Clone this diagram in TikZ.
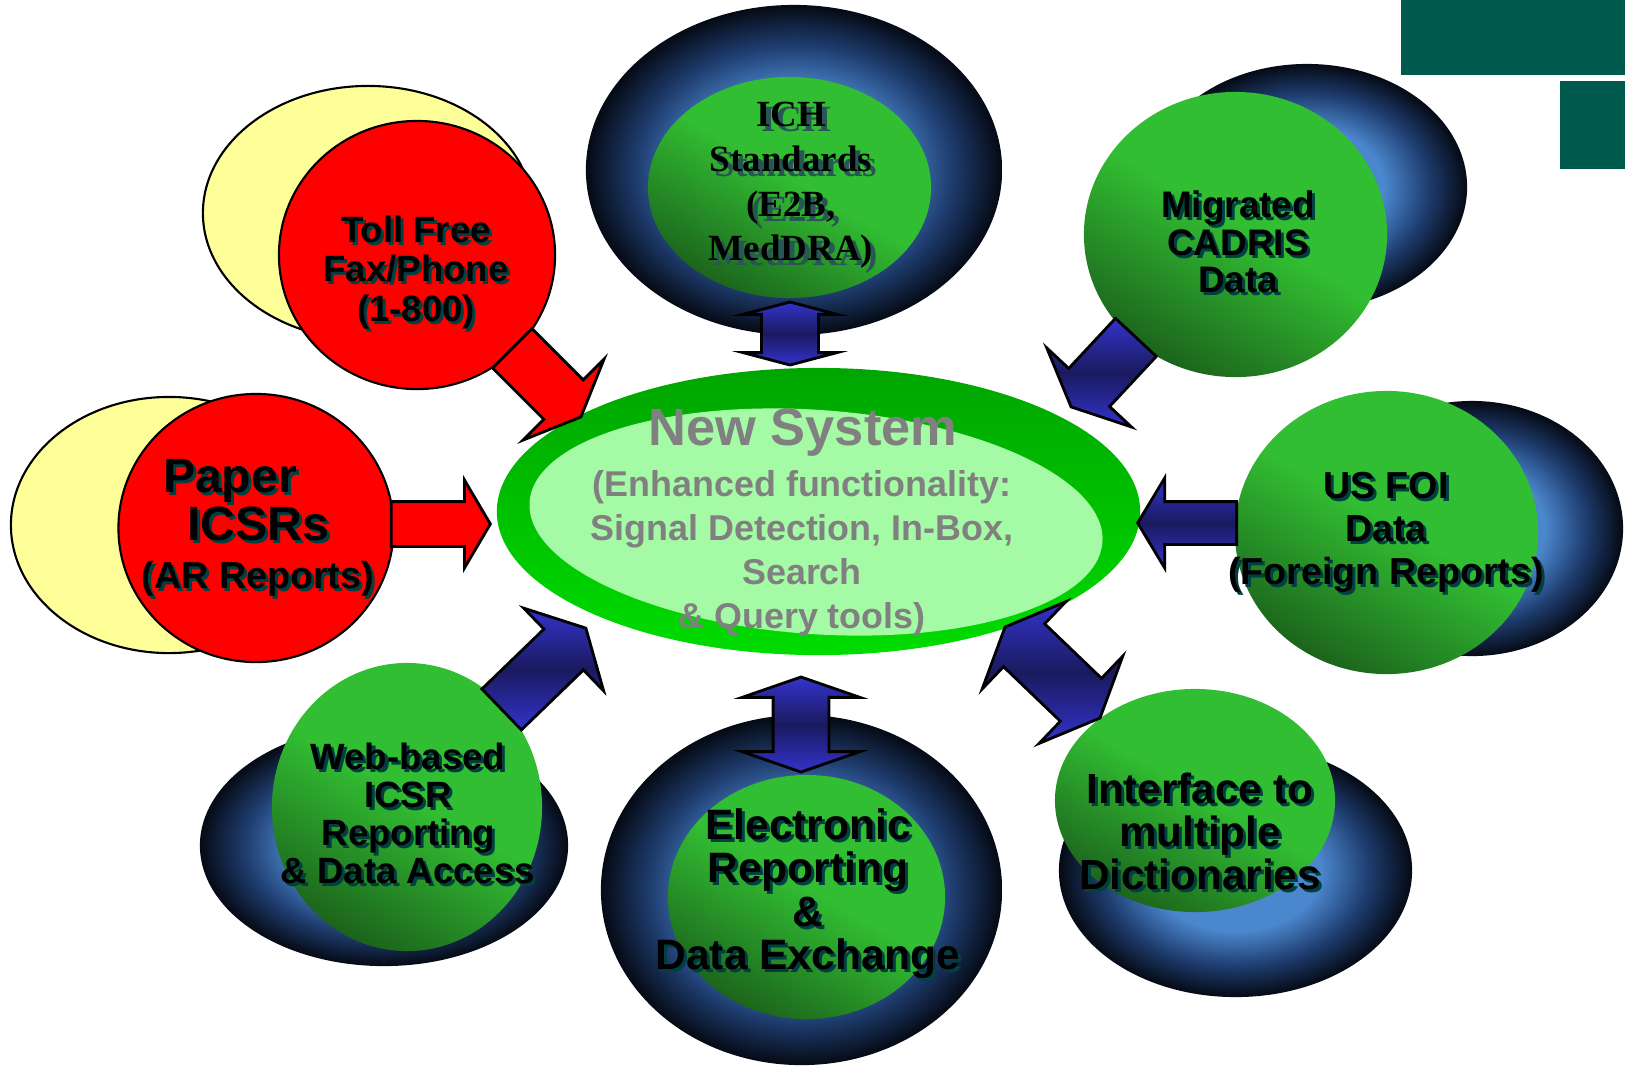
\documentclass[tikz,border=0pt]{standalone}
\usepackage{fontspec}
\setmainfont{Liberation Sans}
\newfontfamily\timesbold{Liberation Serif}
\usetikzlibrary{shapes.geometric,shapes.arrows}
\definecolor{paleyellow}{RGB}{255,255,153}
\definecolor{barteal}{RGB}{0,90,78}
\definecolor{txtshadow}{RGB}{0,64,64}
\definecolor{serifshadow}{RGB}{40,85,85}
\definecolor{sysgray}{RGB}{128,128,128}
\definecolor{grnL}{RGB}{50,190,50}
\definecolor{grnD}{RGB}{28,100,28}
\definecolor{ballblue}{RGB}{75,135,205}
\definecolor{ballmid}{RGB}{30,60,110}
\definecolor{balldark}{RGB}{5,10,20}
\definecolor{arrowblue}{RGB}{51,51,204}
\definecolor{arrownavy}{RGB}{26,26,95}
\definecolor{sysdark}{RGB}{0,165,0}
\definecolor{syslight}{RGB}{0,220,0}
\definecolor{syspale}{RGB}{165,250,165}
\pgfdeclareradialshading{darkball}{\pgfpoint{0bp}{0bp}}{color(0bp)=(ballblue); color(12bp)=(ballblue); color(19bp)=(ballmid); color(25bp)=(balldark); color(50bp)=(balldark)}
\pgfdeclareverticalshading{greenball}{100bp}{color(0bp)=(grnD); color(25bp)=(grnD); color(52bp)=(grnL); color(100bp)=(grnL)}
\newcommand\shtext[1]{\rlap{\hspace{0.3mm}\raisebox{-0.3mm}{\textcolor{txtshadow}{#1}}}#1}
\newcommand\shserif[1]{\rlap{\hspace{0.5mm}\raisebox{-0.5mm}{\textcolor{serifshadow}{#1}}}#1}
\begin{document}
\begin{tikzpicture}[x=0.01cm,y=-0.01cm]
      \tikzstyle{backdisc}=[ellipse,draw=black,line width=0.6pt,fill=paleyellow,inner sep=0pt]
      \tikzstyle{reddisc}=[ellipse,draw=black,line width=0.6pt,fill=red,inner sep=0pt]
      \tikzstyle{ball}=[ellipse,shade,shading=darkball,inner sep=0pt]
      \tikzstyle{greendisc}=[ellipse,shade,shading=greenball,shading angle=-30,inner sep=0pt]
      \tikzstyle{redarrow}=[single arrow,draw=black,line width=0.8pt,fill=red,inner xsep=0pt,anchor=tip]
      \tikzstyle{bluearrow}=[single arrow,draw=black,line width=0.8pt,top color=arrowblue,bottom color=arrowblue,middle color=arrownavy,inner xsep=0pt,anchor=tip]
      \tikzstyle{bluedouble}=[double arrow,draw=black,line width=0.8pt,top color=arrowblue,bottom color=arrowblue,middle color=arrownavy,inner xsep=0pt]
      \tikzstyle{disctext}=[align=center,inner sep=0pt]
      \useasboundingbox (0,0) rectangle (1625,1066);
      % corner bars
      \fill[barteal] (1401,0) rectangle (1625,75);
      \fill[barteal] (1560,81) rectangle (1625,169);
      % red sources
      \node[backdisc,minimum width=33mm,minimum height=25.4mm] (tollback) at (368,213) {};
      \node[reddisc,minimum width=27.6mm,minimum height=26.8mm] (toll) at (417,255) {};
      \node[backdisc,minimum width=31.6mm,minimum height=25.6mm] (paperback) at (169,525) {};
      \node[reddisc,minimum width=27.5mm,minimum height=26.8mm] (paper) at (256,528) {};
      % blue/green balls
      \node[ball,minimum width=41.6mm,minimum height=33mm] (ichback) at (794,170) {};
      \node[greendisc,minimum width=28.3mm,minimum height=22.1mm] (ich) at (789.5,187.5) {};
      \node[ball,minimum width=32mm,minimum height=24.6mm] (migback) at (1307,187) {};
      \node[greendisc,minimum width=30.3mm,minimum height=28.5mm] (mig) at (1235.5,234.5) {};
      \node[ball,minimum width=30.2mm,minimum height=25.5mm] (foiback) at (1472,528.5) {};
      \node[greendisc,minimum width=30.3mm,minimum height=28.3mm] (foi) at (1386.5,532.5) {};
      \node[ball,minimum width=36.8mm,minimum height=24.1mm] (webback) at (384,845.5) {};
      \node[greendisc,minimum width=27mm,minimum height=28.8mm] (web) at (407,807) {};
      \node[ball,minimum width=40.1mm,minimum height=35mm] (elback) at (801.5,890) {};
      \node[greendisc,minimum width=27.7mm,minimum height=24.4mm] (el) at (806.5,897) {};
      \node[ball,minimum width=35.3mm,minimum height=25.3mm] (dictback) at (1235.5,870.5) {};
      \node[greendisc,minimum width=28mm,minimum height=22.3mm] (dict) at (1195,800.5) {};
      % new system
      \node[ellipse,top color=sysdark,bottom color=syslight,minimum width=64.3mm,minimum height=28.7mm,inner sep=0pt] (sys) at (818.5,511.5) {};
      \node[ellipse,fill=syspale,minimum width=57.4mm,minimum height=22.4mm,inner sep=0pt,rotate=-4] (syscore) at (816,522) {};
      % arrows
      \node[redarrow,inner ysep=2.65mm,minimum height=9.7mm,single arrow head extend=2.95mm,single arrow tip angle=133.6,rotate=-45] (tollarrow) at (582,418) {};
      \node[redarrow,inner ysep=2.1mm,minimum height=9.9mm,single arrow head extend=2.15mm,single arrow tip angle=119,rotate=0] (paperarrow) at (492,524) {};
      \node[bluearrow,inner ysep=2.65mm,minimum height=9.5mm,single arrow head extend=3mm,single arrow tip angle=130.8,rotate=-133] (migarrow) at (1070,408) {};
      \node[bluearrow,inner ysep=2mm,minimum height=9.9mm,single arrow head extend=2.35mm,single arrow tip angle=118,rotate=180] (foiarrow) at (1136,523) {};
      \node[bluearrow,inner ysep=2.7mm,minimum height=11.7mm,single arrow head extend=2.9mm,single arrow tip angle=123.6,rotate=44] (webarrow) at (587,627) {};
      \node[bluedouble,inner ysep=2.83mm,minimum height=13.15mm,double arrow head extend=3.07mm,double arrow tip angle=132.8,rotate=-43.8] (dictarrow) at (1052.5,672.5) {};
      \node[bluedouble,inner ysep=2.7mm,minimum height=6.3mm,double arrow head extend=1.85mm,double arrow tip angle=150.4,rotate=90] (icharrow) at (790,333.5) {};
      \node[bluedouble,inner ysep=2.65mm,minimum height=9.5mm,double arrow head extend=3.1mm,double arrow tip angle=141.8,rotate=90] (elarrow) at (801,724.5) {};
      % texts
      \node[disctext,font=\bfseries\fontsize{10.4}{11.1}\selectfont] (tolltext) at (416,274) {\shtext{Toll Free}\\\shtext{Fax/Phone}\\\shtext{(1-800)}};
      \node[disctext,font=\bfseries\fontsize{10.7}{13.7}\selectfont] (papertext) at (258,529.5) {{\fontsize{13.7}{13.7}\selectfont\shtext{Paper}\hspace*{5.6mm}}\\{\fontsize{13.7}{13.7}\selectfont\shtext{ICSRs}}\\\shtext{(AR Reports)}};
      \node[disctext,font=\timesbold\bfseries\fontsize{10.5}{12.7}\selectfont] (ichtext) at (791,188) {\shserif{ICH}\\\shserif{Standards}\\\shserif{(E2B,}\\\shserif{MedDRA)}};
      \node[disctext,font=\bfseries\fontsize{10.5}{10.7}\selectfont] (migtext) at (1238,243.5) {\shtext{Migrated}\\\shtext{CADRIS}\\\shtext{Data}};
      \node[disctext,font=\bfseries\fontsize{10.7}{12.2}\selectfont] (foitext) at (1386,534) {\shtext{US FOI}\\\shtext{Data}\\\shtext{(Foreign Reports)}};
      \node[disctext,font=\bfseries\fontsize{10.4}{10.8}\selectfont] (webtext) at (408,815) {\shtext{Web-based}\\\shtext{ICSR}\\\shtext{Reporting}\\\shtext{\& Data Access}};
      \node[disctext,font=\bfseries\fontsize{12.1}{12.3}\selectfont] (eltext) at (808,895) {\shtext{Electronic}\\\shtext{Reporting}\\\shtext{\&}\\\shtext{Data Exchange}};
      \node[disctext,font=\bfseries\fontsize{12}{12.2}\selectfont] (dicttext) at (1200,833) {\shtext{Interface to}\\\shtext{multiple}\\\shtext{Dictionaries}};
      \node[disctext,text=sysgray,font=\bfseries\fontsize{14.9}{15}\selectfont] (systitle) at (803,433) {New System};
      \node[disctext,text=sysgray,font=\bfseries\fontsize{10.2}{12.5}\selectfont] (sysbody) at (802,553.5) {(Enhanced functionality:\\Signal Detection, In-Box,\\Search\\\& Query tools)};
\end{tikzpicture}
\end{document}
